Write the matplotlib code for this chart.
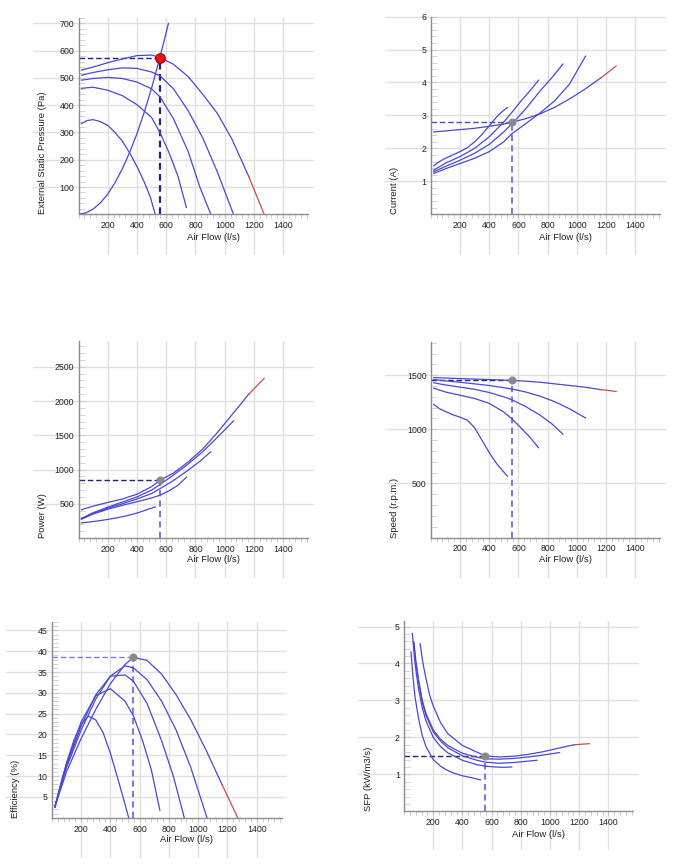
import matplotlib
matplotlib.use("Agg")
import matplotlib.pyplot as plt
from matplotlib.ticker import MultipleLocator

plt.rcParams['font.family'] = ['Liberation Sans', 'DejaVu Sans']

# Air flow sample points (l/s) for the five fan speed curves (1 = highest speed)
flow_1 = [20, 100, 200, 300, 400, 500, 557, 650, 750, 850, 950, 1050, 1165, 1270]
flow_2 = [20, 100, 200, 300, 400, 500, 557, 650, 750, 850, 950, 1060]
flow_3 = [20, 100, 200, 300, 400, 500, 557, 650, 750, 830, 905]
flow_4 = [20, 100, 200, 300, 400, 500, 557, 620, 680, 738]
flow_5 = [20, 60, 100, 150, 200, 250, 300, 350, 400, 450, 490, 525]
red_from = 1165  # curve 1 is drawn red beyond this flow

# External static pressure (Pa)
pres_1 = [529, 540, 556, 570, 582, 584, 575, 550, 505, 440, 370, 275, 138, 0]
pres_2 = [510, 520, 530, 537, 535, 522, 508, 460, 380, 280, 155, 0]
pres_3 = [492, 498, 502, 498, 485, 460, 431, 350, 230, 100, 0]
pres_4 = [462, 466, 455, 435, 402, 355, 300, 225, 140, 25]
pres_5 = [333, 344, 347, 340, 326, 300, 268, 225, 175, 118, 65, 0]

# System curve
sys_flow = [0, 50, 100, 150, 200, 250, 300, 350, 400, 450, 500, 557, 615]
sys_pres = [0, 5, 19, 42, 74, 116, 167, 227, 296, 375, 463, 575, 700]

# Current (A)
curr_1 = [2.5, 2.53, 2.57, 2.61, 2.67, 2.74, 2.8, 2.9, 3.05, 3.25, 3.5, 3.78, 4.14, 4.5]
curr_2 = [1.24, 1.38, 1.54, 1.7, 1.9, 2.2, 2.45, 2.75, 3.08, 3.45, 3.95, 4.8]
curr_3 = [1.29, 1.45, 1.64, 1.85, 2.12, 2.5, 2.75, 3.2, 3.75, 4.15, 4.56]
curr_4 = [1.34, 1.55, 1.75, 2.0, 2.35, 2.8, 3.1, 3.45, 3.75, 4.07]
curr_5 = [1.47, 1.6, 1.7, 1.8, 1.9, 2.02, 2.2, 2.42, 2.68, 2.95, 3.12, 3.24]

# Power (W)
pow_1 = [414, 465, 520, 570, 640, 750, 840, 950, 1110, 1300, 1540, 1800, 2100, 2330]
pow_2 = [285, 370, 450, 525, 600, 700, 780, 920, 1080, 1260, 1470, 1710]
pow_3 = [280, 360, 435, 500, 570, 650, 720, 840, 990, 1120, 1260]
pow_4 = [275, 350, 420, 478, 530, 585, 625, 690, 770, 887]
pow_5 = [222, 230, 240, 255, 272, 290, 312, 335, 365, 400, 430, 453]

# Speed (r.p.m.)
spd_1 = [1478, 1474, 1469, 1465, 1460, 1455, 1452, 1445, 1435, 1420, 1405, 1390, 1367, 1350]
spd_2 = [1460, 1448, 1435, 1420, 1405, 1385, 1372, 1345, 1305, 1255, 1190, 1105]
spd_3 = [1430, 1410, 1390, 1370, 1340, 1300, 1272, 1210, 1130, 1050, 955]
spd_4 = [1380, 1345, 1315, 1285, 1240, 1160, 1095, 1010, 925, 830]
spd_5 = [1230, 1190, 1165, 1135, 1112, 1085, 1015, 900, 785, 685, 620, 567]

# Efficiency (%)
eff_1 = [2.5, 11, 19, 26, 32.2, 36.8, 38.5, 37.8, 34.5, 29.5, 23.5, 16.5, 7.8, 0]
eff_2 = [2.5, 12, 21, 28.5, 34, 36.5, 36, 33.2, 28, 21, 12, 0]
eff_3 = [2.5, 12.5, 22, 29.5, 34, 34.3, 32.8, 27.5, 18.5, 10, 0]
eff_4 = [2.5, 13, 23, 29.3, 31, 28, 24.5, 18.5, 11.5, 1.8]
eff_5 = [2.5, 8, 13, 18.5, 22.5, 24.4, 23.5, 20.5, 15.5, 9.5, 4.5, 0]

# SFP (kW/m3/s) - these start at different flows
sfp_flow_1 = [110, 130, 150, 175, 200, 250, 300, 400, 500, 557, 650, 750, 850, 950, 1050, 1165, 1270]
sfp_1 = [4.54, 4.0, 3.6, 3.15, 2.85, 2.4, 2.1, 1.78, 1.6, 1.5, 1.47, 1.49, 1.54, 1.61, 1.7, 1.8, 1.83]
sfp_flow_2 = [68, 80, 100, 125, 150, 200, 250, 300, 400, 500, 557, 650, 750, 850, 950, 1065]
sfp_2 = [4.58, 4.1, 3.55, 3.0, 2.65, 2.2, 1.95, 1.78, 1.57, 1.46, 1.42, 1.41, 1.43, 1.47, 1.52, 1.59]
sfp_flow_3 = [65, 80, 100, 125, 150, 200, 250, 300, 400, 500, 557, 650, 750, 830, 910]
sfp_3 = [4.58, 4.05, 3.5, 2.95, 2.6, 2.15, 1.9, 1.72, 1.5, 1.38, 1.33, 1.3, 1.32, 1.35, 1.38]
sfp_flow_4 = [57, 70, 85, 100, 125, 150, 200, 250, 300, 400, 500, 557, 620, 680, 737]
sfp_4 = [4.81, 4.2, 3.7, 3.3, 2.8, 2.45, 2.0, 1.75, 1.58, 1.38, 1.26, 1.22, 1.2, 1.19, 1.2]
sfp_flow_5 = [48, 60, 75, 100, 125, 150, 200, 250, 300, 350, 400, 450, 523]
sfp_5 = [4.31, 3.7, 3.1, 2.5, 2.05, 1.75, 1.4, 1.22, 1.1, 1.02, 0.96, 0.92, 0.85]

# Duty point
op_flow = 557
op_pres = 575
op_curr = 2.8
op_pow = 840
op_spd = 1452
op_eff = 38.5
op_sfp = 1.5

x_ticks = [200, 400, 600, 800, 1000, 1200, 1400]

BLUE = "#4848d4"
RED = "#d04a4a"
GRID = "#e0e0e0"
DARK = "#22228c"
LIGHT = "#7c7ce2"
LW = 0.9


def plot_curves(ax, flows, values, red_from):
    for k, (x, y) in enumerate(zip(flows, values)):
        if k == 0:
            i = x.index(red_from)
            ax.plot(x[:i + 1], y[:i + 1], color=BLUE, lw=LW, zorder=3)
            ax.plot(x[i:], y[i:], color=RED, lw=LW, zorder=3)
        else:
            ax.plot(x, y, color=BLUE, lw=LW, zorder=3)


def setup(ax, ytop, yticks, yminor, ylabel, ylab_x=-0.137, xlab_y=-0.095):
    # grid lines run past the axes like in the original chart
    for xv in x_ticks:
        ax.plot([xv, xv], [-0.2, 1.0], transform=ax.get_xaxis_transform(),
                clip_on=False, color=GRID, lw=1, zorder=0)
    for yv in yticks:
        ax.plot([-0.2, 1.02], [yv, yv], transform=ax.get_yaxis_transform(),
                clip_on=False, color=GRID, lw=1, zorder=0)
    ax.set_xlim(0, 1570)
    ax.set_ylim(0, ytop)
    ax.set_xticks(x_ticks)
    ax.set_yticks(yticks)
    ax.xaxis.set_minor_locator(MultipleLocator(40))
    ax.yaxis.set_minor_locator(MultipleLocator(yminor))
    ax.tick_params(axis='x', which='both', direction='out', length=3,
                   color="#c4c4c4", labelsize=6.3, pad=2, labelcolor="#222222")
    ax.tick_params(axis='y', which='both', direction='in', length=4,
                   color="#cccccc", labelsize=6.3, pad=3, labelcolor="#222222")
    for s in ['top', 'right']:
        ax.spines[s].set_visible(False)
    for s in ['left', 'bottom']:
        ax.spines[s].set_color("#8c8c8c")
        ax.spines[s].set_linewidth(1)
        ax.spines[s].set_zorder(4)
    ax.set_xlabel("Air Flow (l/s)", fontsize=6.8, color="#222222")
    # the y titles sit against the bottom of the axis
    ax.set_ylabel(ylabel, fontsize=6.8, color="#222222", ha='left')
    ax.yaxis.set_label_coords(ylab_x, 0.0)
    ax.xaxis.set_label_coords(0.588, xlab_y)
    ax.set_facecolor("none")


def duty_lines(ax, y, hcol, vcol, vlw):
    ax.plot([0, op_flow], [y, y], color=hcol, lw=1.0, dashes=(4, 2), zorder=2)
    ax.plot([op_flow, op_flow], [0, y], color=vcol, lw=vlw, dashes=(3, 2), zorder=2)


fig = plt.figure(figsize=(6.78, 8.65), dpi=100)

# Pressure
ax1 = fig.add_axes([0.1158, 0.7523, 0.3385, 0.2269])
setup(ax1, 720, [100, 200, 300, 400, 500, 600, 700], 20, "External Static Pressure (Pa)")
duty_lines(ax1, op_pres, DARK, DARK, 1.6)
plot_curves(ax1, [flow_1, flow_2, flow_3, flow_4, flow_5],
            [pres_1, pres_2, pres_3, pres_4, pres_5], red_from)
ax1.plot(sys_flow, sys_pres, color=BLUE, lw=LW, zorder=3)
ax1.plot(op_flow, op_pres, 'o', ms=7, mfc="#ee1111", mec="#a00000", mew=0.8, zorder=5)

# Current
ax2 = fig.add_axes([0.6354, 0.7523, 0.338, 0.2285])
setup(ax2, 6, [1, 2, 3, 4, 5, 6], 0.2, "Current (A)")
duty_lines(ax2, op_curr, "#4a4ac8", LIGHT, 1.5)
plot_curves(ax2, [flow_1, flow_2, flow_3, flow_4, flow_5],
            [curr_1, curr_2, curr_3, curr_4, curr_5], red_from)
ax2.plot(op_flow, op_curr, 'o', ms=4.8, color="#8a8a8a", zorder=5)

# Power
ax3 = fig.add_axes([0.1158, 0.378, 0.3385, 0.2281])
setup(ax3, 2880, [500, 1000, 1500, 2000, 2500], 100, "Power (W)", xlab_y=-0.088)
duty_lines(ax3, op_pow, DARK, LIGHT, 1.5)
plot_curves(ax3, [flow_1, flow_2, flow_3, flow_4, flow_5],
            [pow_1, pow_2, pow_3, pow_4, pow_5], red_from)
ax3.plot(op_flow, op_pow, 'o', ms=4.8, color="#8a8a8a", zorder=5)

# Speed
ax4 = fig.add_axes([0.6354, 0.3786, 0.338, 0.2264])
setup(ax4, 1810, [500, 1000, 1500], 100, "Speed (r.p.m.)", xlab_y=-0.088)
duty_lines(ax4, op_spd, DARK, LIGHT, 1.5)
plot_curves(ax4, [flow_1, flow_2, flow_3, flow_4, flow_5],
            [spd_1, spd_2, spd_3, spd_4, spd_5], red_from)
ax4.plot(op_flow, op_spd, 'o', ms=4.8, color="#8a8a8a", zorder=5)

# Efficiency
ax5 = fig.add_axes([0.0764, 0.0547, 0.339, 0.2266])
setup(ax5, 47.1, [5, 10, 15, 20, 25, 30, 35, 40, 45], 1, "Efficiency (%)", xlab_y=-0.088)
duty_lines(ax5, op_eff, LIGHT, LIGHT, 1.5)
plot_curves(ax5, [flow_1, flow_2, flow_3, flow_4, flow_5],
            [eff_1, eff_2, eff_3, eff_4, eff_5], red_from)
ax5.plot(op_flow, op_eff, 'o', ms=4.8, color="#8a8a8a", zorder=5)

# SFP
ax6 = fig.add_axes([0.5959, 0.0621, 0.3382, 0.22])
setup(ax6, 5.15, [1, 2, 3, 4, 5], 0.2, "SFP (kW/m3/s)", xlab_y=-0.1)
duty_lines(ax6, op_sfp, DARK, LIGHT, 1.5)
plot_curves(ax6, [sfp_flow_1, sfp_flow_2, sfp_flow_3, sfp_flow_4, sfp_flow_5],
            [sfp_1, sfp_2, sfp_3, sfp_4, sfp_5], red_from)
ax6.plot(op_flow, op_sfp, 'o', ms=4.8, color="#8a8a8a", zorder=5)

fig.savefig("out.png", dpi=100)
